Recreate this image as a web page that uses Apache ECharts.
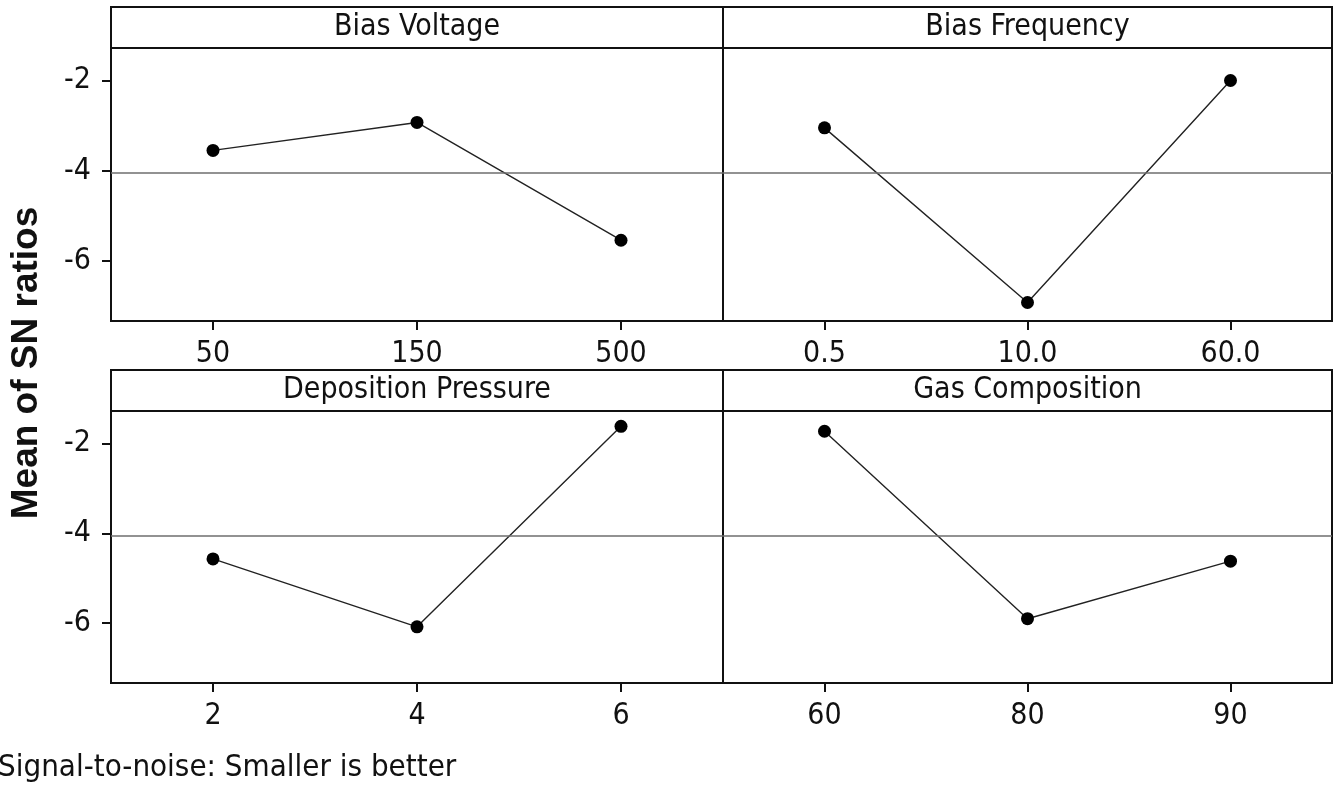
<!DOCTYPE html>
<html>
<head>
<meta charset="utf-8">
<title>Main Effects Plot for SN ratios</title>
<script src="https://cdn.jsdelivr.net/npm/echarts@6/dist/echarts.min.js"></script>
<style>
  html, body { margin: 0; padding: 0; background: #fff; }
  #chart { width: 1333px; height: 794px; }
</style>
</head>
<body>
<div id="chart"></div>
<script>
// Factor names (panel headers)
const factors = ['Bias Voltage', 'Bias Frequency', 'Deposition Pressure', 'Gas Composition'];

// Factor levels (x tick labels)
const levelsBiasVoltage = ['50', '150', '500'];
const levelsBiasFrequency = ['0.5', '10.0', '60.0'];
const levelsDepositionPressure = ['2', '4', '6'];
const levelsGasComposition = ['60', '80', '90'];

// Mean of SN ratios at each level
const snBiasVoltage = [-3.55, -2.93, -5.54];
const snBiasFrequency = [-3.05, -6.92, -2.00];
const snDepositionPressure = [-4.57, -6.08, -1.62];
const snGasComposition = [-1.73, -5.90, -4.62];

// Overall mean reference line and y tick values
const grandMean = -4.05;
const yTicks = [-6, -4, -2];

const yTitle = 'Mean of SN ratios';
const footnote = 'Signal-to-noise: Smaller is better';

const levels = [levelsBiasVoltage, levelsBiasFrequency, levelsDepositionPressure, levelsGasComposition];
const values = [snBiasVoltage, snBiasFrequency, snDepositionPressure, snGasComposition];

const FONT = '"DejaVu Sans Condensed", "DejaVu Sans", sans-serif';
const INK = '#111';

// Panel layout
const colLeft = [111, 723];
const colWidth = [612, 609];
const rowTop = [48, 411];
const rowHeight = [273, 272];
const headerH = 41;
const yMin = -7.33, yMax = -1.28;

const chart = echarts.init(document.getElementById('chart'), null, { renderer: 'canvas' });

const grids = [], xAxes = [], yAxes = [], series = [], graphics = [];

factors.forEach((name, i) => {
  const row = Math.floor(i / 2), col = i % 2;
  const left = colLeft[col], width = colWidth[col];
  const top = rowTop[row], height = rowHeight[row];

  grids.push({
    left: left, top: top, width: width, height: height,
    show: true, borderColor: INK, borderWidth: 2, backgroundColor: '#fff'
  });

  xAxes.push({
    type: 'category', gridIndex: i, data: levels[i], boundaryGap: true,
    axisLine: { show: true, lineStyle: { color: INK, width: 2 } },
    axisTick: { show: true, alignWithLabel: true, length: 9, lineStyle: { color: INK, width: 2 } },
    axisLabel: { show: true, margin: 18, color: INK, fontSize: 30, fontFamily: FONT },
    splitLine: { show: false }
  });

  yAxes.push({
    type: 'value', gridIndex: i, min: yMin, max: yMax,
    axisLine: { show: true, lineStyle: { color: INK, width: 2 } },
    axisTick: { show: col === 0, length: 9, customValues: yTicks, lineStyle: { color: INK, width: 2 } },
    axisLabel: { show: col === 0, margin: 20, color: INK, fontSize: 30, fontFamily: FONT, customValues: yTicks },
    splitLine: { show: false }
  });

  series.push({
    type: 'line', xAxisIndex: i, yAxisIndex: i, data: values[i],
    symbol: 'circle', symbolSize: 13,
    itemStyle: { color: '#000' },
    lineStyle: { color: '#222', width: 1.4 },
    animation: false, silent: true,
    markLine: {
      silent: true, symbol: 'none', animation: false,
      label: { show: false },
      lineStyle: { color: '#6e6e6e', width: 1.6, type: 'solid' },
      data: [{ yAxis: grandMean }]
    }
  });

  // Header strip with the factor name
  graphics.push({
    type: 'rect',
    shape: { x: left, y: top - headerH, width: width, height: headerH },
    style: { fill: '#fff', stroke: INK, lineWidth: 2 }
  });
  graphics.push({
    type: 'text',
    x: left + width / 2, y: top - headerH / 2,
    style: {
      text: name, fill: INK, font: '30px ' + FONT,
      textAlign: 'center', textVerticalAlign: 'middle'
    }
  });
});

// Shared y-axis title
graphics.push({
  type: 'text',
  x: 27, y: 363, rotation: Math.PI / 2,
  style: {
    text: yTitle, fill: INK, font: 'bold 37px "Liberation Sans", Arial, sans-serif',
    textAlign: 'center', textVerticalAlign: 'middle'
  }
});

// Footnote
graphics.push({
  type: 'text',
  x: -2, y: 768,
  style: {
    text: footnote, fill: INK, font: '31px ' + FONT,
    textAlign: 'left', textVerticalAlign: 'middle'
  }
});

chart.setOption({
  backgroundColor: '#fff',
  animation: false,
  grid: grids,
  xAxis: xAxes,
  yAxis: yAxes,
  series: series,
  graphic: graphics
});
</script>
</body>
</html>
